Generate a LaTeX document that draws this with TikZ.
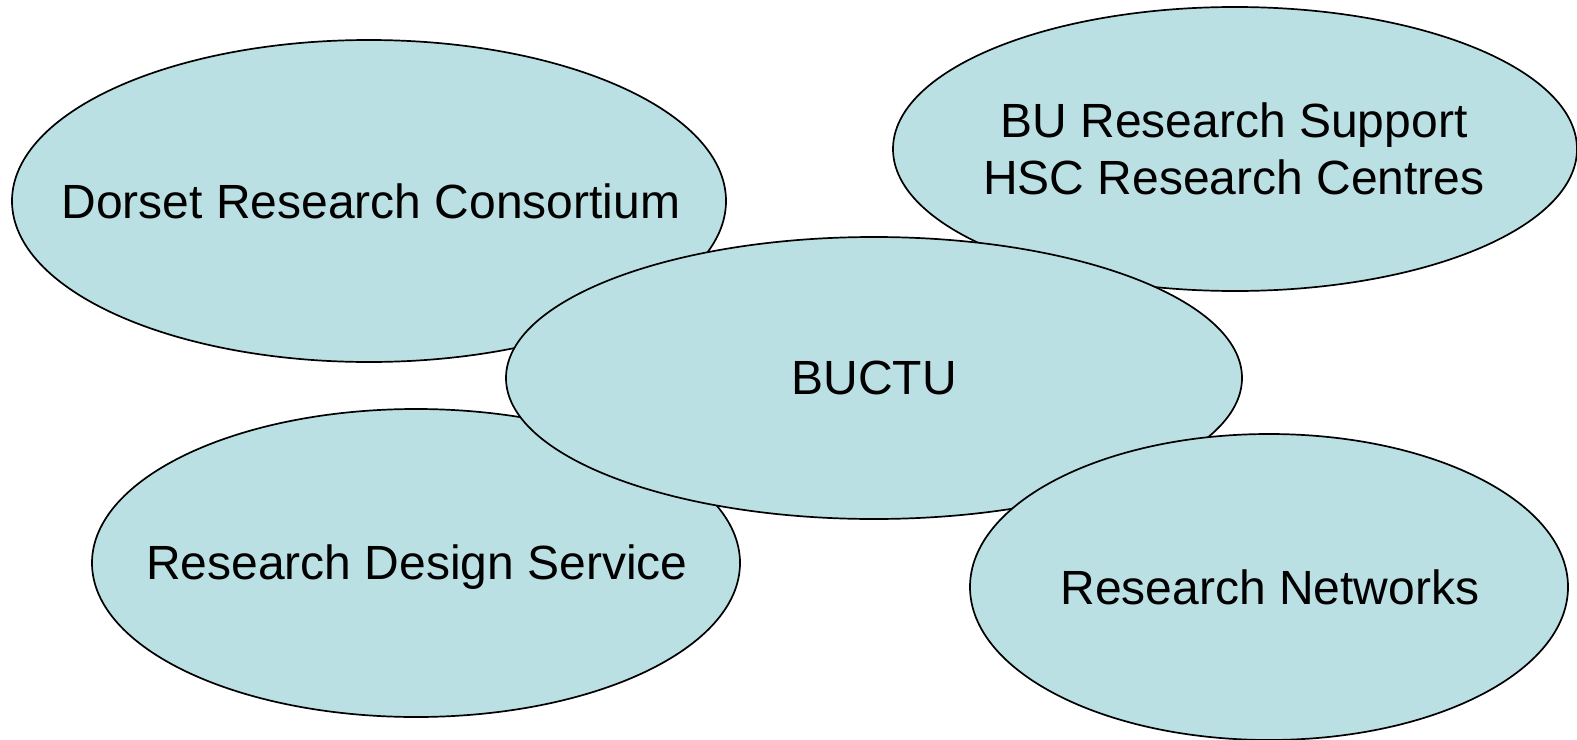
\documentclass[tikz,border=0pt]{standalone}
\usepackage{fontspec}
\setmainfont{Liberation Sans}
\usetikzlibrary{shapes.geometric}
\definecolor{bubblefill}{RGB}{187,224,227}
\begin{document}
\begin{tikzpicture}[x=1pt,y=-1pt,
  bubble/.style={ellipse,draw=black,line width=1.7pt,fill=bubblefill,inner sep=0pt},
  lbl/.style={anchor=base,inner sep=0pt,font=\fontsize{48}{57}\selectfont}]
\useasboundingbox (0,0) rectangle (1577,739);
\node[bubble,minimum width=714pt,minimum height=322pt] (dorset) at (369,201) {};
\node[bubble,minimum width=684pt,minimum height=284pt] (bu) at (1235,149) {};
\node[bubble,minimum width=648pt,minimum height=308pt] (rds) at (416,563) {};
\node[bubble,minimum width=736pt,minimum height=282pt] (buctu) at (874,378) {};
\node[bubble,minimum width=598pt,minimum height=306pt] (rn) at (1269,587) {};
\node[lbl] (tdorset) at (371,218) {Dorset Research Consortium};
\node[lbl] (tbu1) at (1234,137) {BU Research Support};
\node[lbl] (tbu2) at (1234,194) {HSC Research Centres};
\node[lbl] (tbuctu) at (874,394) {BUCTU};
\node[lbl] (trds) at (417,579) {Research Design Service};
\node[lbl] (trn) at (1270,604) {Research Networks};
\end{tikzpicture}
\end{document}
